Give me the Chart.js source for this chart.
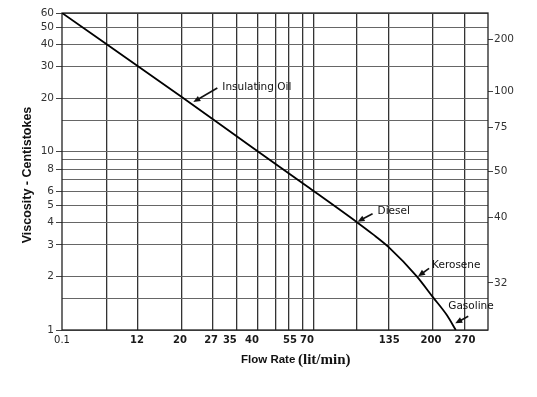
<!DOCTYPE html>
<html>
<head>
<meta charset="utf-8">
<script src="https://cdn.jsdelivr.net/npm/chart.js@4.4.1/dist/chart.umd.min.js"></script>
<style>
  html, body { margin: 0; padding: 0; background: #fff; }
</style>
</head>
<body>
<canvas id="viscChart" width="537" height="397"></canvas>
<script>
// axis ticks
const flowTicks = [0.1, 12, 20, 27, 35, 40, 55, 70, 135, 200, 270];       // lit/min
const viscGrid = [1, 1.5, 2, 3, 4, 5, 6, 7, 8, 9, 10, 15, 20, 30, 40, 50, 60];
const viscLabels = [1, 2, 3, 4, 5, 6, 8, 10, 20, 30, 40, 50, 60];
const susLabels = [200, 100, 75, 50, 40, 32];                               // right axis (SUS)
const susAtCst = [42.5, 21.8, 13.7, 7.75, 4.27, 1.84];                      // same marks in cSt

// viscosity curve
const flowRate = [0.1, 20, 40, 70, 110, 122, 135, 178, 204, 233, 251];
const viscosity = [60, 20.6, 10.6, 6.4, 4.0, 3.45, 2.9, 2.0, 1.53, 1.21, 1.0];

// labelled fuels (where the arrow points)
const fuelNames = ['Insulating Oil', 'Diesel', 'Kerosene', 'Gasoline'];
const fuelFlow = [23, 110, 180, 250];
const fuelVisc = [19, 4.05, 2.0, 1.09];

// the flow axis is not a regular scale: where each tick sits across the plot
const xTickPos = [0, 0.176, 0.277, 0.350, 0.394, 0.446, 0.535, 0.575, 0.768, 0.866, 0.946];
const xGridPos = [0.1056, 0.1784, 0.2817, 0.3545, 0.4108, 0.4601, 0.5023, 0.5329,
                  0.5657, 0.5915, 0.6925, 0.7676, 0.8709, 0.9460];

// text offsets and arrow tails, px from the arrow tip
const noteLayout = [
    { tx: 29, ty: -15, ax: 24, ay: -14 },
    { tx: 20, ty: -10, ax: 15, ay: -8 },
    { tx: 14, ty: -11, ax: 11, ay: -8 },
    { tx: -7, ty: -17, ax: 13, ay: -7 }
];

function toFrac(v) {
    const n = flowTicks.length - 1;
    if (v <= flowTicks[0]) return xTickPos[0];
    for (let i = 1; i <= n; i++) {
        if (v <= flowTicks[i]) {
            return xTickPos[i - 1] + (v - flowTicks[i - 1]) / (flowTicks[i] - flowTicks[i - 1]) * (xTickPos[i] - xTickPos[i - 1]);
        }
    }
    return xTickPos[n] + (v - flowTicks[n]) / (flowTicks[n] - flowTicks[n - 1]) * (xTickPos[n] - xTickPos[n - 1]);
}

function fromFrac(f) {
    const n = flowTicks.length - 1;
    for (let i = 1; i <= n; i++) {
        if (f <= xTickPos[i]) {
            return flowTicks[i - 1] + (f - xTickPos[i - 1]) / (xTickPos[i] - xTickPos[i - 1]) * (flowTicks[i] - flowTicks[i - 1]);
        }
    }
    return flowTicks[n] + (f - xTickPos[n]) / (xTickPos[n] - xTickPos[n - 1]) * (flowTicks[n] - flowTicks[n - 1]);
}

class KnotScale extends Chart.LinearScale {
    buildTicks() {
        const labelled = flowTicks.map(v => ({ value: v, kind: 'label' }));
        const lines = xGridPos.map(f => ({ value: fromFrac(f), kind: 'grid' }));
        return labelled.concat(lines);
    }
    getPixelForValue(value) {
        return this.getPixelForDecimal(toFrac(value));
    }
    getValueForPixel(pixel) {
        return fromFrac(this.getDecimalForPixel(pixel));
    }
}
KnotScale.id = 'knot';
KnotScale.defaults = Chart.LinearScale.defaults;
Chart.register(KnotScale);

function drawArrow(ctx, x0, y0, x1, y1) {
    const a = Math.atan2(y1 - y0, x1 - x0);
    const c = Math.cos(a), s = Math.sin(a);
    ctx.beginPath();
    ctx.moveTo(x0, y0);
    ctx.lineTo(x1 - 4 * c, y1 - 4 * s);
    ctx.stroke();
    ctx.beginPath();
    ctx.moveTo(x1, y1);
    ctx.lineTo(x1 - 7 * c + 3 * s, y1 - 7 * s - 3 * c);
    ctx.lineTo(x1 - 7 * c - 3 * s, y1 - 7 * s + 3 * c);
    ctx.closePath();
    ctx.fill();
}

const decor = {
    id: 'decor',
    beforeDatasetsDraw(chart) {
        const { ctx, chartArea: a } = chart;
        ctx.save();
        ctx.strokeStyle = '#222';
        ctx.lineWidth = 1.3;
        ctx.strokeRect(a.left, a.top, a.right - a.left, a.bottom - a.top);
        ctx.restore();
    },
    afterDatasetsDraw(chart) {
        const { ctx } = chart;
        const xs = chart.scales.x, ys = chart.scales.y;
        ctx.save();
        ctx.strokeStyle = '#111';
        ctx.fillStyle = '#111';
        ctx.lineWidth = 1.6;
        ctx.font = '10.5px "DejaVu Sans"';
        ctx.textAlign = 'left';
        ctx.textBaseline = 'middle';
        fuelNames.forEach((name, i) => {
            const px = xs.getPixelForValue(fuelFlow[i]);
            const py = ys.getPixelForValue(fuelVisc[i]);
            const l = noteLayout[i];
            drawArrow(ctx, px + l.ax, py + l.ay, px, py);
            ctx.fillText(name, px + l.tx, py + l.ty);
        });
        ctx.restore();
    },
    afterDraw(chart) {
        const { ctx } = chart;
        ctx.save();
        ctx.fillStyle = '#111';
        ctx.translate(28, 175);
        ctx.rotate(-Math.PI / 2);
        ctx.font = 'bold 12.5px "Liberation Sans"';
        ctx.textAlign = 'center';
        ctx.textBaseline = 'middle';
        ctx.fillText('Viscosity - Centistokes', 0, 0);
        ctx.restore();

        ctx.save();
        ctx.fillStyle = '#111';
        ctx.textAlign = 'left';
        ctx.textBaseline = 'alphabetic';
        ctx.font = 'bold 11.5px "Liberation Sans"';
        ctx.fillText('Flow Rate', 241, 363);
        ctx.font = 'bold 15px "Liberation Serif"';
        ctx.fillText('(lit/min)', 298, 364);
        ctx.restore();
    }
};

const ctx = document.getElementById('viscChart').getContext('2d');
const tickFont = { family: 'DejaVu Sans', size: 10.5 };

new Chart(ctx, {
    type: 'line',
    data: {
        datasets: [{
            data: flowRate.map((f, i) => ({ x: f, y: viscosity[i] })),
            borderColor: '#000',
            borderWidth: 1.8,
            pointRadius: 0,
            fill: false,
            cubicInterpolationMode: 'monotone',
            yAxisID: 'y'
        }]
    },
    options: {
        responsive: false,
        animation: false,
        devicePixelRatio: 1,
        layout: { padding: { top: 13, left: 0, right: 0, bottom: 0 } },
        plugins: {
            legend: { display: false },
            tooltip: { enabled: false }
        },
        scales: {
            x: {
                type: 'knot',
                position: 'bottom',
                min: 0.1,
                max: 317,
                afterFit: s => { s.height = 67; },
                ticks: {
                    autoSkip: false,
                    maxRotation: 0,
                    padding: 4,
                    color: '#1a1a1a',
                    font: c => (c.tick && c.tick.value === 0.1)
                        ? { family: 'DejaVu Sans', size: 10 }
                        : { family: 'DejaVu Sans', size: 10, weight: 'bold' },
                    callback: (v, i, ticks) => ticks[i].kind === 'label' ? String(v) : ''
                },
                grid: {
                    color: c => (c.tick && c.tick.kind === 'grid') ? '#333' : 'rgba(0,0,0,0)',
                    lineWidth: 1.3,
                    drawTicks: false
                },
                border: { display: false }
            },
            y: {
                type: 'logarithmic',
                position: 'left',
                min: 1,
                max: 60,
                afterBuildTicks: s => { s.ticks = viscGrid.map(v => ({ value: v })); },
                afterFit: s => { s.width = 62; },
                ticks: {
                    autoSkip: false,
                    padding: 2,
                    color: '#333',
                    font: tickFont,
                    callback: v => viscLabels.includes(v) ? String(v) : ''
                },
                grid: {
                    color: '#666',
                    lineWidth: 1,
                    tickLength: 6,
                    tickColor: c => (c.tick && viscLabels.includes(c.tick.value)) ? '#444' : 'rgba(0,0,0,0)'
                },
                border: { display: false }
            },
            y2: {
                type: 'logarithmic',
                position: 'right',
                display: true,
                min: 1,
                max: 60,
                afterBuildTicks: s => { s.ticks = susAtCst.map(v => ({ value: v })); },
                afterFit: s => { s.width = 49; },
                ticks: {
                    autoSkip: false,
                    padding: 1,
                    color: '#333',
                    font: tickFont,
                    callback: (v, i) => String(susLabels[i])
                },
                grid: {
                    drawOnChartArea: false,
                    tickLength: 5,
                    tickColor: '#444'
                },
                border: { display: false }
            }
        }
    },
    plugins: [decor]
});
</script>
</body>
</html>
